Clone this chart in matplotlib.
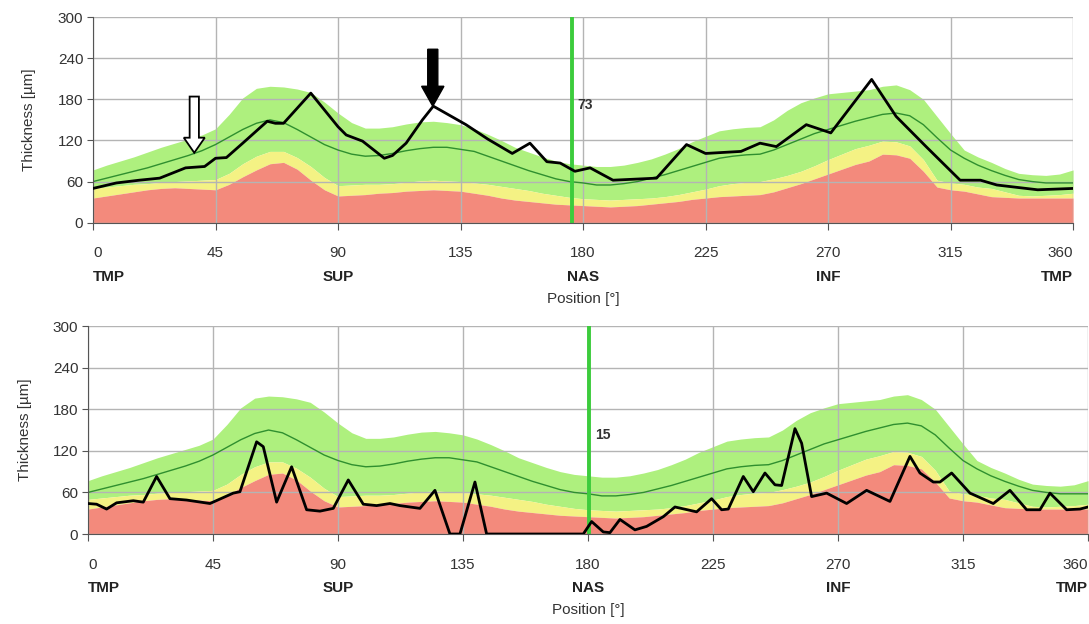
import numpy as np
import matplotlib
matplotlib.use("Agg")
import matplotlib.pyplot as plt

plt.rcParams["font.family"] = ["Liberation Sans", "DejaVu Sans"]

# normative bands (shared by both scans), sampled every 5 degrees
band_deg = list(range(0, 361, 5))
p1_red = [36, 39, 42, 45, 48, 50, 51, 50, 49, 48, 56, 67, 77, 86, 88, 78, 62, 48, 39, 40,
          41, 43, 44, 46, 47, 48, 47, 46, 43, 40, 36, 33, 31, 29, 27, 26, 25, 24, 23, 24,
          25, 27, 29, 31, 34, 36, 38, 39, 40, 41, 45, 51, 57, 64, 71, 78, 85, 90, 100, 99,
          94, 75, 52, 48, 46, 42, 38, 37, 36, 36, 36, 36, 36]
p5_yellow = [50, 52, 54, 56, 57, 59, 60, 61, 62, 63, 72, 86, 97, 104, 104, 95, 82, 66, 54,
             55, 56, 56, 57, 59, 61, 62, 61, 60, 58, 56, 53, 50, 47, 43, 40, 37, 35, 34,
             33, 34, 35, 36, 38, 41, 45, 49, 54, 57, 59, 60, 64, 69, 75, 83, 92, 100, 108,
             113, 119, 118, 112, 92, 62, 58, 56, 52, 50, 45, 40, 39, 40, 41, 43]
p95_green = [77, 84, 90, 96, 103, 110, 116, 122, 128, 137, 158, 182, 196, 199, 198, 195,
             190, 176, 160, 146, 138, 138, 140, 144, 147, 148, 146, 143, 137, 129, 120,
             110, 103, 96, 90, 86, 84, 82, 82, 84, 88, 93, 100, 108, 118, 126, 134, 137,
             139, 140, 150, 164, 175, 182, 188, 190, 192, 194, 199, 201, 194, 180, 155,
             130, 106, 96, 88, 79, 72, 70, 69, 71, 77]
mean_line = [60, 65, 70, 75, 80, 86, 92, 98, 105, 114, 125, 136, 145, 150, 146, 136, 125,
             114, 106, 100, 97, 98, 101, 105, 108, 110, 110, 107, 104, 97, 90, 83, 76, 70,
             64, 60, 58, 55, 55, 57, 60, 65, 70, 76, 82, 88, 94, 97, 99, 100, 106, 114,
             122, 130, 136, 142, 148, 153, 158, 160, 156, 143, 124, 106, 94, 84, 76, 69,
             63, 60, 58, 58, 58]

# measured RNFL thickness, first scan
top_deg = [0, 8.6, 17, 24.5, 34, 41, 45, 49, 55, 64, 67, 70, 80, 90, 93, 99, 107, 110,
           115, 121, 125, 137, 145, 154, 160.5, 166.7, 171.6, 177, 182.6, 191, 207, 218,
           225, 238, 245, 251, 262, 271, 286, 295, 306, 318.5, 326, 332, 347, 360]
top_val = [50, 58, 62, 65, 80, 82, 94, 95, 116, 148, 145, 145, 189, 140, 128, 119, 94, 98,
           116, 150, 170, 143, 122, 101, 116, 89, 87, 75, 80, 62, 65, 114,
           101, 104, 116, 111, 143, 131, 209, 155, 111, 62, 62, 55, 48, 50]

# measured RNFL thickness, second scan
bot_deg = [0, 3.1, 6.7, 10.3, 16.3, 19.9, 24.7, 29.5, 35.5, 43.9, 52.3, 54.7, 60.7, 63.1,
           67.9, 73.3, 78.7, 83.5, 88.3, 93.7, 99.1, 103.9, 108.7, 112.3, 119.5, 124.9,
           130.3, 133.9, 139.3, 143.5, 178.3, 181.3, 185.5, 187.9, 191.5, 196.9, 201.1,
           207.1, 211.3, 219.1, 224.5, 228.1, 230.5, 235.9, 239.5, 243.7, 247.3, 249.7,
           254.5, 256.9, 260.5, 265.9, 273.1, 280.3, 288.7, 295.9, 299.5, 304.3, 306.7,
           310.9, 317.5, 325.9, 331.9, 337.9, 342.7, 346.3, 352.3, 357.1, 360]
bot_val = [44, 43, 36, 45, 48, 46, 83, 51, 49, 44, 59, 61, 133, 126,
           46, 97, 35, 33, 37, 78, 43, 41, 44, 41, 37, 63,
           0, 0, 75, 0, 0, 18, 3, 2, 21, 6, 11,
           25, 39, 32, 51, 35, 36, 83, 61, 88, 71, 70,
           152, 131, 54, 59, 44, 63, 47, 112, 88, 75, 75,
           88, 59, 44, 63, 35, 35, 59, 35, 36, 39]

xticks = [0, 45, 90, 135, 180, 225, 270, 315, 360]
yticks = [0, 60, 120, 180, 240, 300]
sector_deg = [0, 90, 180, 270, 360]
sector_names = ["TMP", "SUP", "NAS", "INF", "TMP"]
marker_deg = [176, 180.5]
marker_txt = ["73", "15"]
marker_txt_y = [172, 143]

RED = "#f38a7c"
YELLOW = "#f4f284"
GREEN = "#aef07e"
TXT = "#333333"


def draw_panel(ax, deg, val, mdeg, mtxt, mty, txt_dx, ylabelpad):
    ax.fill_between(band_deg, p5_yellow, p95_green, color=GREEN, lw=0)
    ax.fill_between(band_deg, p1_red, p5_yellow, color=YELLOW, lw=0)
    ax.fill_between(band_deg, 0, p1_red, color=RED, lw=0)
    ax.plot(band_deg, mean_line, color="#2f8f2f", lw=1.0)
    ax.axvline(mdeg, color="#3ccc3c", lw=2.8, zorder=2.2)
    ax.plot(deg, val, color="black", lw=2.0, zorder=3)
    ax.text(mdeg + txt_dx, mty, mtxt, fontsize=10, fontweight="bold",
            color=TXT, va="center")

    ax.set_xlim(0, 360)
    ax.set_ylim(0, 300)
    ax.set_xticks(xticks)
    ax.set_yticks(yticks)
    ax.grid(True, color="#b4b4b4", lw=1.0)
    ax.set_axisbelow("line")
    for s in ["top", "right"]:
        ax.spines[s].set_visible(False)
    for s in ["left", "bottom"]:
        ax.spines[s].set_color("#555555")
    ax.tick_params(axis="x", length=5, pad=12, labelsize=11, colors="#555555",
                   labelcolor=TXT)
    ax.tick_params(axis="y", length=4, pad=3, labelsize=11, colors="#555555",
                   labelcolor=TXT)
    labels = ax.get_xticklabels()
    labels[0].set_ha("left")
    labels[-1].set_ha("right")
    ax.set_ylabel("Thickness [µm]", fontsize=11, color=TXT, labelpad=ylabelpad)

    for d, name in zip(sector_deg, sector_names):
        ha = "left" if d == 0 else ("right" if d == 360 else "center")
        ax.annotate(name, xy=(d, 0), xycoords=("data", "axes fraction"),
                    xytext=(0, -39), textcoords="offset points",
                    ha=ha, va="center", fontsize=11, fontweight="bold",
                    color="#222222")
    ax.annotate("Position [°]", xy=(180, 0), xycoords=("data", "axes fraction"),
                xytext=(0, -55), textcoords="offset points",
                ha="center", va="center", fontsize=11, color=TXT)


fig = plt.figure(figsize=(10.89, 6.24), dpi=100)
ax1 = fig.add_axes([0.0854, 0.6431, 0.900, 0.3296])
ax2 = fig.add_axes([0.0808, 0.1442, 0.9183, 0.3333])

draw_panel(ax1, top_deg, top_val, marker_deg[0], marker_txt[0], marker_txt_y[0], 2, 16)
draw_panel(ax2, bot_deg, bot_val, marker_deg[1], marker_txt[1], marker_txt_y[1], 2, 15)

# arrows marking the regions of interest on the first scan
ax1.arrow(37.2, 184, 0, -60, width=3.4, head_width=7.7, head_length=22,
          length_includes_head=False, fc="white", ec="black", lw=1.3, zorder=4)
ax1.arrow(124.8, 253, 0, -54, width=3.7, head_width=8.2, head_length=29,
          length_includes_head=False, fc="black", ec="black", lw=1.0, zorder=4)

fig.savefig("out.png", dpi=100)
